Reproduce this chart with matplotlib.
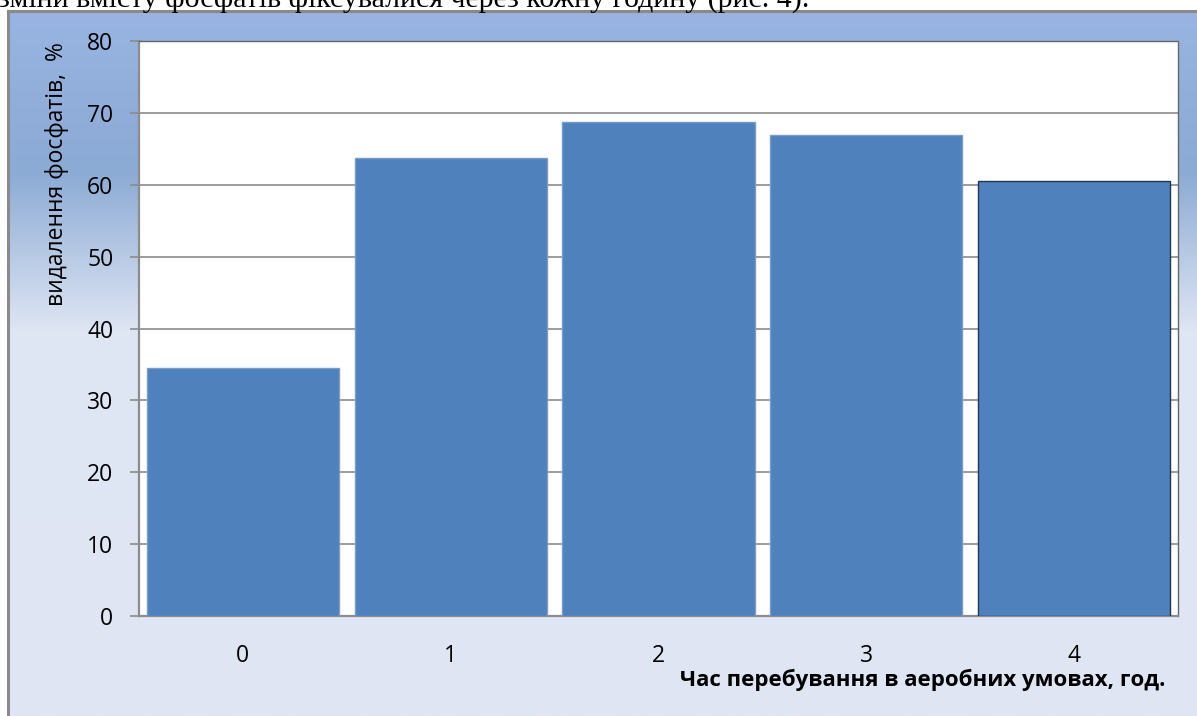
import numpy as np
import matplotlib
matplotlib.use("Agg")
import matplotlib.pyplot as plt

# ---- data ----
categories = ["0", "1", "2", "3", "4"]
removal = [34.5, 63.7, 68.8, 66.9, 60.5]
y_ticks = [0, 10, 20, 30, 40, 50, 60, 70, 80]
y_label = "видалення фосфатів,  %"
x_label = "Час перебування в аеробних умовах, год."
top_text = "зміни вмісту фосфатів фіксувалися через кожну годину (рис. 4)."

W, H = 1197, 716
fig = plt.figure(figsize=(W / 100, H / 100), dpi=100)
fig.patch.set_facecolor("white")

def fx(px):
    return px / W

def fy(py):
    return 1 - py / H

# ---- gradient chart frame ----
frame_left, frame_top = 8, 11
bg = fig.add_axes([fx(frame_left), 0, 1 - fx(frame_left), fy(frame_top)])
bg.set_axis_off()
ys = np.linspace(frame_top, H, 400)
stops_y = [frame_top, 170, 330, H]
stops_c = np.array([[153, 180, 226], [139, 170, 212], [222, 229, 243], [224, 230, 244]]) / 255.0
grad = np.stack([np.interp(ys, stops_y, stops_c[:, i]) for i in range(3)], axis=-1)
bg.imshow(grad[:, None, :], aspect="auto", extent=[0, 1, 0, 1], interpolation="bilinear")
bg.set_xlim(0, 1)
bg.set_ylim(0, 1)
bg.plot([0, 0], [0, 1], color="#8a8a8a", lw=2.2, transform=bg.transAxes, clip_on=False)
bg.plot([0, 1], [1, 1], color="#8a8a8a", lw=2.2, transform=bg.transAxes, clip_on=False)

# ---- top cut-off text ----
fig.text(fx(-2), fy(7), top_text, family=["Liberation Serif", "DejaVu Serif"],
         fontsize=21.5, va="baseline", ha="left", color="black")

# ---- main axes ----
L, R, T, B = 139, 1178, 41, 616
ax = fig.add_axes([fx(L), fy(B), fx(R - L), (B - T) / H])
ax.set_facecolor("white")
x = np.arange(len(categories))
edges = ["#7b9cc9"] * (len(categories) - 1) + ["#24364f"]
ax.bar(x, removal, width=0.924, color="#4f81bd", edgecolor=edges, linewidth=1.0, zorder=3)
ax.set_xlim(-0.5, len(categories) - 0.5)
ax.set_ylim(0, 80)
ax.set_yticks(y_ticks)
ax.set_xticks(x)
ax.set_xticklabels(categories)
ax.yaxis.grid(True, color="#8c8c8c", lw=1.2, zorder=0)
ax.set_axisbelow(True)

font = ["Open Sans", "DejaVu Sans"]
ax.tick_params(axis="y", direction="out", length=6.5, width=1.2, color="#8c8c8c",
               pad=12, labelsize=16.5)
ax.tick_params(axis="x", length=0, pad=20, labelsize=16.5)
for lab in ax.get_xticklabels() + ax.get_yticklabels():
    lab.set_family(font)

for s in ["left", "bottom"]:
    ax.spines[s].set_color("#8c8c8c")
    ax.spines[s].set_linewidth(1.6)
for s in ["top", "right"]:
    ax.spines[s].set_color("#666666")
    ax.spines[s].set_linewidth(1.0)
    ax.spines[s].set_linestyle((0, (1, 1)))

fig.text(fx(57), fy(174), y_label, rotation=90, ha="center", va="center",
         family=font, fontsize=16.5)
fig.text(fx(1165), fy(680), x_label, ha="right", va="center", family=font,
         fontsize=16, fontweight="bold")

fig.savefig("out.png", dpi=100)
